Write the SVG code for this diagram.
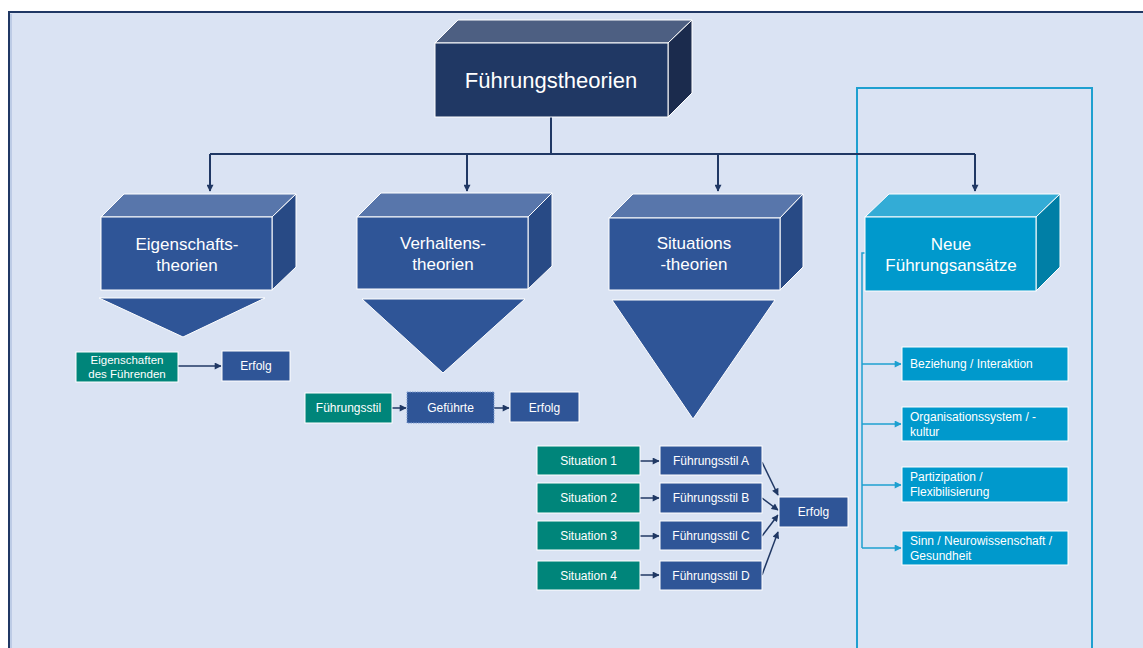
<svg xmlns="http://www.w3.org/2000/svg" width="1143" height="648" viewBox="0 0 1143 648">
<defs>
<style>
text{font-family:"Liberation Sans",Arial,sans-serif;fill:#ffffff}
.c{text-anchor:middle}
.front{fill:#2f5597;stroke:#ffffff;stroke-width:1}
.top{fill:#5876ab;stroke:#ffffff;stroke-width:1}
.side{fill:#284a85;stroke:#ffffff;stroke-width:1}
.tri{fill:#2f5597;stroke:#ffffff;stroke-width:1}
.teal{fill:#00857a;stroke:#ffffff;stroke-width:1}
.blue{fill:#2f5597;stroke:#ffffff;stroke-width:1}
.cyan{fill:#0099cc;stroke:#ffffff;stroke-width:1}
.conn{fill:none;stroke:#203864;stroke-width:2}
.conn2{fill:none;stroke:#203864;stroke-width:1.5}
.cconn{fill:none;stroke:#1ea0d0;stroke-width:1.5}
</style>
<marker id="ahs" viewBox="0 0 10 10" refX="9" refY="5" markerWidth="8" markerHeight="7" orient="auto" markerUnits="userSpaceOnUse"><path d="M0,0 L10,5 L0,10 z" fill="#203864"/></marker>
<marker id="ahc" viewBox="0 0 10 10" refX="9" refY="5" markerWidth="8" markerHeight="7" orient="auto" markerUnits="userSpaceOnUse"><path d="M0,0 L10,5 L0,10 z" fill="#1ea0d0"/></marker>
</defs>
<rect x="0" y="0" width="1143" height="648" fill="#ffffff"/>
<rect x="9" y="12" width="1140" height="640" fill="#dae3f3" stroke="#203864" stroke-width="2"/>
<line x1="11" y1="14" x2="11" y2="648" stroke="#9fb4d8" stroke-width="1"/>

<g id="frame-neue">
<rect x="857" y="88" width="235" height="565" fill="none" stroke="#1ea0d0" stroke-width="2"/>
</g>

<g id="connectors">
<path class="conn" d="M551,117 V154"/>
<path class="conn" d="M210,154 H975"/>
<path class="conn" d="M210,154 V191" marker-end="url(#ahs)"/>
<path class="conn" d="M467,154 V191" marker-end="url(#ahs)"/>
<path class="conn" d="M718,154 V191" marker-end="url(#ahs)"/>
<path class="conn" d="M975,154 V191" marker-end="url(#ahs)"/>
<path class="conn2" d="M178,366 H221" marker-end="url(#ahs)"/>
<path class="conn2" d="M392,408 H406" marker-end="url(#ahs)"/>
<path class="conn2" d="M494,408 H509" marker-end="url(#ahs)"/>
<path class="conn2" d="M640,461 H659" marker-end="url(#ahs)"/>
<path class="conn2" d="M640,498 H659" marker-end="url(#ahs)"/>
<path class="conn2" d="M640,536 H659" marker-end="url(#ahs)"/>
<path class="conn2" d="M640,575 H659" marker-end="url(#ahs)"/>
<path class="conn2" d="M762,462 L778,495" marker-end="url(#ahs)"/>
<path class="conn2" d="M762,498 L778,510" marker-end="url(#ahs)"/>
<path class="conn2" d="M762,536 L778,515" marker-end="url(#ahs)"/>
<path class="conn2" d="M762,575 L778,532" marker-end="url(#ahs)"/>
<path class="cconn" d="M866,253 H862 V548"/>
<path class="cconn" d="M862,364 H901" marker-end="url(#ahc)"/>
<path class="cconn" d="M862,424 H901" marker-end="url(#ahc)"/>
<path class="cconn" d="M862,485 H901" marker-end="url(#ahc)"/>
<path class="cconn" d="M862,548 H901" marker-end="url(#ahc)"/>
</g>

<g id="fuehrungstheorien">
<polygon points="435,43 458,20 692,20 668,43" fill="#4d5f82" stroke="#ffffff" stroke-width="1"/>
<polygon points="668,43 692,20 692,93 668,117" fill="#1b2b4d" stroke="#ffffff" stroke-width="1"/>
<rect x="435" y="43" width="233" height="74" fill="#203864" stroke="#ffffff" stroke-width="1"/>
<text class="c" x="551" y="88" font-size="22">Führungstheorien</text>
</g>

<g id="eigenschaftstheorien">
<polygon class="top" points="101,217 124,194 296,194 272,217"/>
<polygon class="side" points="272,217 296,194 296,267 272,290"/>
<rect class="front" x="101" y="217" width="171" height="73"/>
<text class="c" x="187" y="250" font-size="17">Eigenschafts-</text>
<text class="c" x="187" y="271" font-size="17">theorien</text>
<polygon class="tri" points="99,298 265,298 183,337"/>
</g>

<g id="verhaltenstheorien">
<polygon class="top" points="357,217 381,193 552,193 528,217"/>
<polygon class="side" points="528,217 552,193 552,266 528,289"/>
<rect class="front" x="357" y="217" width="171" height="72"/>
<text class="c" x="443" y="249" font-size="17">Verhaltens-</text>
<text class="c" x="443" y="270" font-size="17">theorien</text>
<polygon class="tri" points="362,299 525,299 443,373"/>
</g>

<g id="situationstheorien">
<polygon class="top" points="609,218 633,194 803,194 780,218"/>
<polygon class="side" points="780,218 803,194 803,267 780,290"/>
<rect class="front" x="609" y="218" width="171" height="72"/>
<text class="c" x="694" y="249" font-size="17">Situations</text>
<text class="c" x="694" y="270" font-size="17">-theorien</text>
<polygon class="tri" points="612,300 775,300 693,419"/>
</g>

<g id="neue-fuehrungsansaetze">
<polygon points="865,217 889,194 1060,194 1036,217" fill="#33acd6" stroke="#ffffff" stroke-width="1"/>
<polygon points="1036,217 1060,194 1060,267 1036,291" fill="#007fa6" stroke="#ffffff" stroke-width="1"/>
<rect class="cyan" x="865" y="217" width="171" height="74"/>
<text class="c" x="951" y="250" font-size="17">Neue</text>
<text class="c" x="951" y="271" font-size="17">Führungsansätze</text>
</g>

<g id="eigenschaften-des-fuehrenden">
<rect class="teal" x="76" y="352" width="102" height="30"/>
<text class="c" x="127" y="364" font-size="11.5">Eigenschaften</text>
<text class="c" x="127" y="378" font-size="11.5">des Führenden</text>
</g>
<g id="erfolg1">
<rect class="blue" x="222" y="351" width="68" height="30"/>
<text class="c" x="256" y="370" font-size="12">Erfolg</text>
</g>

<g id="fuehrungsstil">
<rect class="teal" x="305" y="393" width="87" height="30"/>
<text class="c" x="348.5" y="412" font-size="12">Führungsstil</text>
</g>
<g id="gefuehrte">
<rect x="407" y="392" width="87" height="31" fill="#2f5597" stroke="#7f9ccf" stroke-width="1" stroke-dasharray="1.5,1"/>
<text class="c" x="450.5" y="412" font-size="12">Geführte</text>
</g>
<g id="erfolg2">
<rect class="blue" x="510" y="392" width="69" height="30"/>
<text class="c" x="544.5" y="412" font-size="12">Erfolg</text>
</g>

<g id="situation1"><rect class="teal" x="537" y="446" width="103" height="29"/><text class="c" x="588.5" y="465" font-size="12">Situation 1</text></g>
<g id="situation2"><rect class="teal" x="537" y="483" width="103" height="30"/><text class="c" x="588.5" y="502" font-size="12">Situation 2</text></g>
<g id="situation3"><rect class="teal" x="537" y="521" width="103" height="29"/><text class="c" x="588.5" y="540" font-size="12">Situation 3</text></g>
<g id="situation4"><rect class="teal" x="537" y="561" width="103" height="29"/><text class="c" x="588.5" y="580" font-size="12">Situation 4</text></g>

<g id="stil-a"><rect class="blue" x="660" y="446" width="102" height="29"/><text class="c" x="711" y="465" font-size="12">Führungsstil A</text></g>
<g id="stil-b"><rect class="blue" x="660" y="483" width="102" height="30"/><text class="c" x="711" y="502" font-size="12">Führungsstil B</text></g>
<g id="stil-c"><rect class="blue" x="660" y="521" width="102" height="29"/><text class="c" x="711" y="540" font-size="12">Führungsstil C</text></g>
<g id="stil-d"><rect class="blue" x="660" y="561" width="102" height="29"/><text class="c" x="711" y="580" font-size="12">Führungsstil D</text></g>

<g id="erfolg3"><rect class="blue" x="779" y="497" width="69" height="30"/><text class="c" x="813.5" y="516" font-size="12">Erfolg</text></g>

<g id="beziehung"><rect class="cyan" x="902" y="347" width="166" height="34"/><text x="910" y="368" font-size="12">Beziehung / Interaktion</text></g>
<g id="organisation"><rect class="cyan" x="902" y="407" width="166" height="34"/><text x="910" y="421" font-size="12">Organisationssystem / -</text><text x="910" y="436" font-size="12">kultur</text></g>
<g id="partizipation"><rect class="cyan" x="902" y="467" width="166" height="35"/><text x="910" y="481" font-size="12">Partizipation /</text><text x="910" y="496" font-size="12">Flexibilisierung</text></g>
<g id="sinn"><rect class="cyan" x="902" y="531" width="166" height="34"/><text x="910" y="545" font-size="12">Sinn / Neurowissenschaft /</text><text x="910" y="560" font-size="12">Gesundheit</text></g>
</svg>
